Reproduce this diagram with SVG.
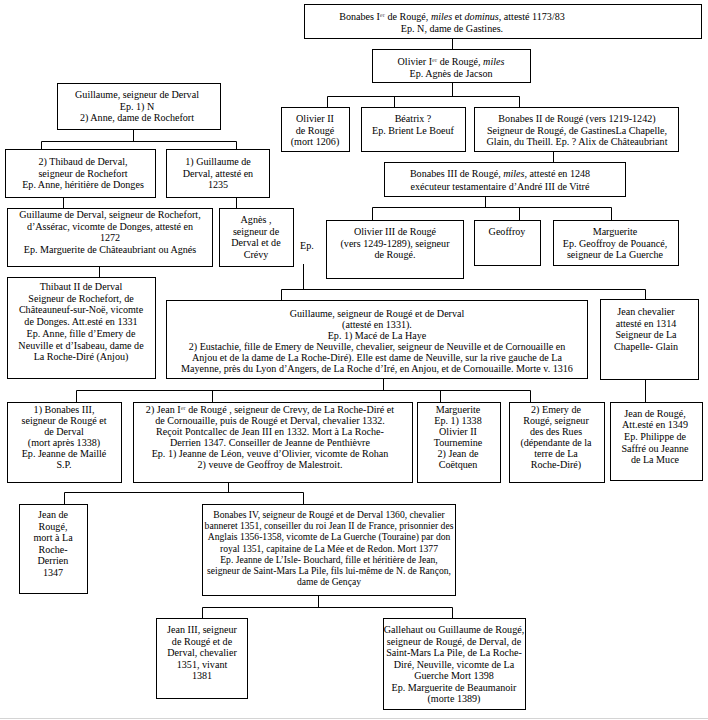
<svg xmlns="http://www.w3.org/2000/svg" width="708" height="720" viewBox="0 0 708 720" xml:space="preserve">
<style>
.b{fill:#fff;stroke:#000;stroke-width:1}
text{font-family:"Liberation Serif","Times New Roman",serif;font-size:10.1px;fill:#000;text-anchor:middle}
.l{text-anchor:start}
.i{font-style:italic}
.s{font-size:6.5px;fill:#666}
.sm{font-size:9.6px}
#conn path{stroke:#000;stroke-width:1;fill:none}
</style>
<rect width="708" height="720" fill="#fff"/>
<line x1="0" y1="718.5" x2="708" y2="718.5" stroke="#d4d4d4" stroke-width="1"/>
<g id="conn">
<path d="M452.5 38.5V49.5M452.5 82.5V96.5M327.5 96.5H519.5M327.5 96.5V107.5M394.5 96.5V107.5M519.5 96.5V107.5"/>
<path d="M553.5 151.5V162.5M485.5 196.5V207.5M372.5 207.5H611.5M372.5 207.5V220.5M519.5 207.5V220.5M611.5 207.5V220.5"/>
<path d="M133.5 129.5V141.5M41.5 141.5H236.5M41.5 141.5V149.5M236.5 141.5V149.5M63.5 197.5V208.5M236.5 197.5V208.5M99.5 266.5V277.5"/>
<path d="M303.5 264V289.5M281.5 289.5H645.5M281.5 289.5V300.5M645.5 289.5V299.5M645.5 379.5V402.5"/>
<path d="M383.5 378.5V390.5M76.5 390.5H530.5M76.5 390.5V402.5M212.5 390.5V402.5M440.5 390.5V402.5M530.5 390.5V402.5"/>
<path d="M228.5 482.5V492.5M64.5 492.5H303.5M64.5 492.5V504.5M303.5 492.5V504.5"/>
<path d="M318.5 595.5V607.5M202.5 607.5H452.5M202.5 607.5V618.5M452.5 607.5V618.5"/>
</g>
<g id="n1"><rect class="b" x="304.5" y="4.5" width="397" height="34"/>
<text x="452" y="20">Bonabes I<tspan class="s" dy="-3.5">er</tspan><tspan dy="3.5"> de Rougé, </tspan><tspan class="i">miles</tspan> et <tspan class="i">dominus,</tspan> attesté 1173/83</text>
<text x="452" y="32">Ep. N, dame de Gastines.</text></g>
<g id="n2"><rect class="b" x="372.5" y="49.5" width="158" height="33"/>
<text x="451" y="65">Olivier I<tspan class="s" dy="-3.5">er</tspan><tspan dy="3.5"> de Rougé, </tspan><tspan class="i">miles</tspan></text>
<text x="451" y="77">Ep. Agnès de Jacson</text></g>
<g id="n3"><rect class="b" x="281.5" y="107.5" width="68" height="44"/>
<text x="315" y="122">Olivier II</text><text x="315" y="133.5">de Rougé</text><text x="315" y="145">(mort 1206)</text></g>
<g id="n4"><rect class="b" x="361.5" y="107.5" width="104" height="44"/>
<text x="413" y="122">Béatrix ?</text><text x="413" y="133.5">Ep. Brient Le Boeuf</text></g>
<g id="n5"><rect class="b" x="474.5" y="107.5" width="204" height="44"/>
<text x="577" y="122">Bonabes II de Rougé (vers 1219-1242)</text><text x="577" y="133.5">Seigneur de Rougé, de GastinesLa Chapelle,</text><text x="577" y="145">Glain, du Theill. Ep. ? Alix de Châteaubriant</text></g>
<g id="n6"><rect class="b" x="384.5" y="162.5" width="241" height="34"/>
<text x="500" y="177">Bonabes III de Rougé, <tspan class="i">miles</tspan>, attesté en 1248</text>
<text x="500" y="189.5">exécuteur testamentaire d’André III de Vitré</text></g>
<g id="n7"><rect class="b" x="326.5" y="220.5" width="137" height="58"/>
<text x="395" y="235">Olivier III de Rougé</text><text x="395" y="246.5">(vers 1249-1289), seigneur</text><text x="395" y="258">de Rougé.</text></g>
<g id="n8"><rect class="b" x="474.5" y="220.5" width="66" height="45"/>
<text x="507" y="235">Geoffroy</text></g>
<g id="n9"><rect class="b" x="553.5" y="220.5" width="125" height="45"/>
<text x="615" y="235">Marguerite</text><text x="615" y="246.5">Ep. Geoffroy de Pouancé,</text><text x="615" y="258">seigneur de La Guerche</text></g>
<g id="ep"><text class="l" x="300" y="249">Ep.</text></g>
<g id="n10"><rect class="b" x="57.5" y="83.5" width="163" height="46"/>
<text x="137" y="98">Guillaume, seigneur de Derval</text><text x="137" y="109.5">Ep. 1) N</text><text x="137" y="121">2) Anne, dame de Rochefort</text></g>
<g id="n11"><rect class="b" x="5.5" y="149.5" width="150" height="48"/>
<text x="83" y="165">2) Thibaud de Derval,</text><text x="83" y="176.5">seigneur de Rochefort</text><text x="83" y="188">Ep. Anne, héritière de Donges</text></g>
<g id="n12"><rect class="b" x="166.5" y="149.5" width="103" height="48"/>
<text x="218" y="165">1) Guillaume de</text><text x="218" y="176.5">Derval, attesté en</text><text x="218" y="188">1235</text></g>
<g id="n13"><rect class="b" x="7.5" y="208.5" width="205" height="58"/>
<text x="110" y="218">Guillaume de Derval, seigneur de Rochefort,</text><text x="110" y="229.5">d’Assérac, vicomte de Donges, attesté en</text><text x="110" y="241">1272</text><text x="110" y="252.5">Ep. Marguerite de Châteaubriant ou Agnés</text></g>
<g id="n14"><rect class="b" x="219.5" y="208.5" width="74" height="58"/>
<text x="256" y="223">Agnès ,</text><text x="256" y="234.5">seigneur de</text><text x="256" y="246">Derval et de</text><text x="256" y="257.5">Crévy</text></g>
<g id="n15"><rect class="b" x="7.5" y="277.5" width="148" height="101"/>
<text x="81" y="290">Thibaut II de Derval</text><text x="81" y="301.7">Seigneur de Rochefort,  de</text><text x="81" y="313.4">Châteauneuf-sur-Noë, vicomte</text><text x="81" y="325.1">de Donges. Att.esté en 1331</text><text x="81" y="336.8">Ep. Anne, fille d’Emery de</text><text x="81" y="348.5">Neuville et d’Isabeau, dame de</text><text x="81" y="360.2">La Roche-Diré (Anjou)</text></g>
<g id="n16"><rect class="b" x="166.5" y="300.5" width="421" height="78"/>
<text x="377" y="317">Guillaume, seigneur de Rougé et de Derval</text><text x="377" y="328">(attesté en 1331).</text><text x="377" y="339">Ep. 1) Macé de La Haye</text><text x="377" y="350">2) Eustachie, fille de Emery de Neuville, chevalier, seigneur de Neuville et de Cornouaille en</text><text x="377" y="361">Anjou et de la dame de La Roche-Diré). Elle est dame de Neuville, sur la rive gauche de La</text><text x="377" y="372">Mayenne, près du Lyon d’Angers, de La Roche d’Iré, en Anjou, et de Cornouaille. Morte v. 1316</text></g>
<g id="n17"><rect class="b" x="600.5" y="299.5" width="98" height="80"/>
<text x="646" y="315">Jean chevalier</text><text x="646" y="326.5">attesté en 1314</text><text x="646" y="338">Seigneur de La</text><text x="646" y="349.5">Chapelle- Glain</text></g>
<g id="n18"><rect class="b" x="610.5" y="402.5" width="92" height="78"/>
<text x="655" y="416.5">Jean de Rougé,</text><text x="655" y="428.2">Att.esté en 1349</text><text x="655" y="439.9">Ep. Philippe de</text><text x="655" y="451.6">Saffré ou Jeanne</text><text x="655" y="463.3">de La Muce</text></g>
<g id="n19"><rect class="b" x="7.5" y="402.5" width="114" height="80"/>
<text x="64" y="413">1) Bonabes III,</text><text x="64" y="424">seigneur de Rougé et</text><text x="64" y="435">de Derval</text><text x="64" y="446">(mort après 1338)</text><text x="64" y="457">Ep. Jeanne de Maillé</text><text x="64" y="468">S.P.</text></g>
<g id="n20"><rect class="b" x="133.5" y="402.5" width="279" height="80"/>
<text x="270" y="413">2) Jean I<tspan class="s" dy="-3.5">er</tspan><tspan dy="3.5"> de Rougé , seigneur de Crevy, de La Roche-Diré et</tspan></text><text x="270" y="424">de Cornouaille, puis de Rougé et Derval, chevalier 1332.</text><text x="270" y="435">Reçoit Pontcallec de Jean III en 1332. Mort à La Roche-</text><text x="270" y="446">Derrien 1347. Conseiller de Jeanne de Penthièvre</text><text x="270" y="457">Ep.   1) Jeanne de Léon, veuve d’Olivier, vicomte de Rohan</text><text x="270" y="468">2) veuve de Geoffroy de Malestroit.</text></g>
<g id="n21"><rect class="b" x="417.5" y="402.5" width="83" height="80"/>
<text x="458" y="413">Marguerite</text><text x="458" y="424">Ep.   1) 1338</text><text x="458" y="435">Olivier II</text><text x="458" y="446">Tournemine</text><text x="458" y="457">2) Jean de</text><text x="458" y="468">Coëtquen</text></g>
<g id="n22"><rect class="b" x="509.5" y="402.5" width="95" height="80"/>
<text x="556" y="413">2) Emery de</text><text x="556" y="424">Rougé, seigneur</text><text x="556" y="435">des des Rues</text><text x="556" y="446">(dépendante de la</text><text x="556" y="457">terre de La</text><text x="556" y="468">Roche-Diré)</text></g>
<g id="n23"><rect class="b" x="19.5" y="504.5" width="68" height="89"/>
<text x="53" y="518">Jean de</text><text x="53" y="529.5">Rougé,</text><text x="53" y="541">mort à La</text><text x="53" y="552.5">Roche-</text><text x="53" y="564">Derrien</text><text x="53" y="575.5">1347</text></g>
<g id="n24"><rect class="b" x="202.5" y="504.5" width="253" height="91"/>
<text class="sm" x="329" y="518">Bonabes IV, seigneur de Rougé et de Derval 1360, chevalier</text><text class="sm" x="329" y="529.2">banneret 1351, conseiller du roi Jean II de France, prisonnier des</text><text class="sm" x="329" y="540.4">Anglais 1356-1358, vicomte de La Guerche (Touraine) par don</text><text class="sm" x="329" y="551.6">royal 1351,  capitaine de La Mée et de Redon. Mort 1377</text><text class="sm" x="329" y="562.8">Ep. Jeanne de L’Isle- Bouchard, fille et héritière de Jean,</text><text class="sm" x="329" y="574">seigneur de Saint-Mars La Pile, fils lui-même de N. de Rançon,</text><text class="sm" x="329" y="585.2">dame de Gençay</text></g>
<g id="n25"><rect class="b" x="156.5" y="618.5" width="91" height="80"/>
<text x="202" y="633">Jean III, seigneur</text><text x="202" y="644.6">de Rougé et de</text><text x="202" y="656.2">Derval, chevalier</text><text x="202" y="667.8">1351, vivant</text><text x="202" y="679.4">1381</text></g>
<g id="n26"><rect class="b" x="383.5" y="618.5" width="142" height="91"/>
<text x="454" y="633">Gallehaut ou Guillaume de Rougé,</text><text x="454" y="644.5">seigneur de Rougé, de Derval, de</text><text x="454" y="656">Saint-Mars La Pile, de La Roche-</text><text x="454" y="667.5">Diré, Neuville, vicomte de La</text><text x="454" y="679">Guerche Mort 1398</text><text x="454" y="690.5">Ep. Marguerite de Beaumanoir</text><text x="454" y="702">(morte 1389)</text></g>
</svg>
